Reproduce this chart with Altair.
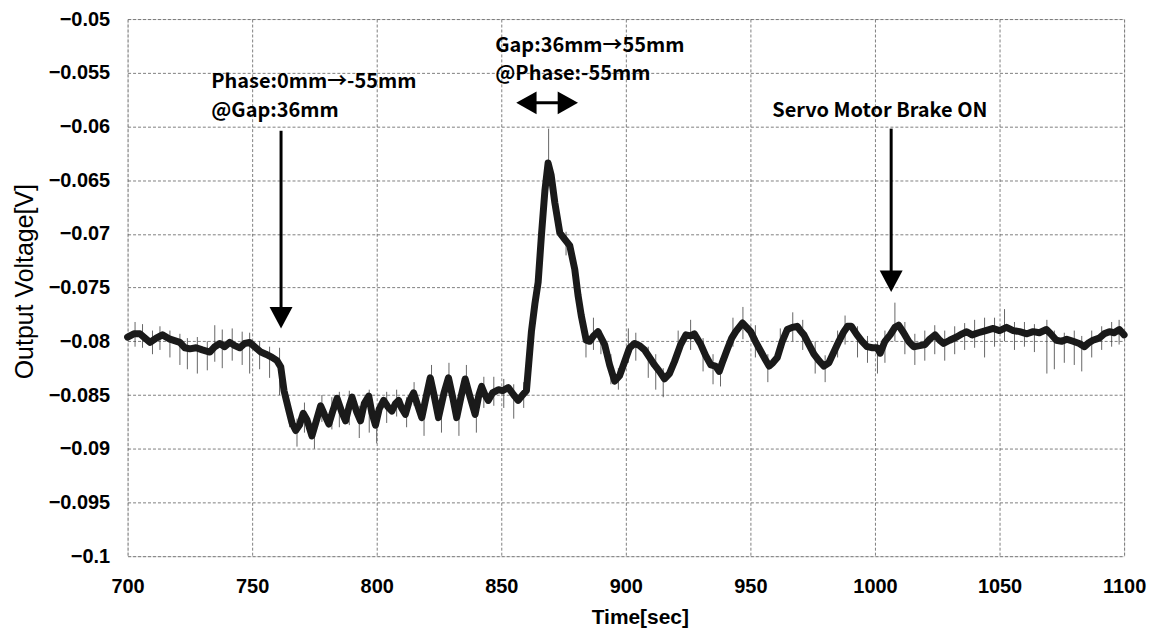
import altair as alt
import pandas as pd

# ---- main trace (Time[sec], Output Voltage[V]) ----
t_vals = [700, 702.5, 705, 707, 709, 711.5, 714, 717, 721, 723, 725, 727.5, 730, 733, 735, 737, 739, 741, 743, 745,
          747, 749, 751.5, 753.5, 755.5, 758, 760, 761.5, 762.8, 764.8, 766, 767.5, 769, 770.5, 772, 774, 776, 777.5,
          779, 780.8, 782.5, 784.1, 786, 787.5, 789, 790.1, 792, 793.5, 795, 796.8, 798, 799.5, 801, 802.8, 804.5,
          806.1, 807.5, 808.8, 810, 811.5, 813, 814.8, 816.5, 818.1, 820, 821.5, 823, 824.8, 827, 828.8, 830.5,
          832.1, 834, 835.5, 837.5, 839.5, 841, 842.1, 843.5, 844.8, 846.5, 848.8, 850.5, 852.8, 855, 856.8, 858.5,
          860.1, 862.1, 863.5, 864.8, 866.1, 867.5, 868.8, 870, 871.5, 873.5, 875.5, 877.5, 879.5, 880.8, 882.1,
          884.1, 885.5, 887, 888.8, 891.5, 893.5, 895.5, 897.5, 899.5, 901.5, 903.5, 905.5, 907.5, 909.5, 911.5,
          913.5, 915.5, 917.5, 919.5, 922, 924.1, 926, 927.5, 930.1, 932, 934.1, 936, 937.5, 939, 940.8, 942.5,
          944.1, 946.8, 948.5, 950.1, 952, 954.1, 956, 957.5, 959, 960.8, 962.8, 964.8, 966.8, 968.8, 970, 971.5,
          973.5, 975.5, 977.5, 979.5, 981.5, 983.5, 985.5, 987.5, 989, 990.5, 992.8, 994.8, 996.8, 999, 1000.8,
          1002.1, 1004, 1006.1, 1008, 1009.5, 1011.5, 1013.5, 1015.5, 1018, 1020.1, 1022, 1024.1, 1026, 1027.5,
          1030, 1032.8, 1035, 1036.8, 1039, 1041.5, 1044.5, 1047.5, 1050, 1052.8, 1055.5, 1058.1, 1061, 1063.5,
          1066, 1068.8, 1070.5, 1072.8, 1075, 1077, 1079.5, 1082, 1084.1, 1086, 1087.5, 1090, 1092, 1094.1, 1096,
          1098.1, 1100]
v_vals = [-0.0796, -0.0793, -0.0793, -0.0797, -0.0801, -0.0797, -0.0794, -0.0798, -0.0801, -0.0806, -0.0807,
          -0.0806, -0.0808, -0.0810, -0.0805, -0.0802, -0.0805, -0.0801, -0.0804, -0.0806, -0.0802, -0.0801,
          -0.0806, -0.0810, -0.0812, -0.0815, -0.0818, -0.0824, -0.0846, -0.0865, -0.0876, -0.0883, -0.0878,
          -0.0867, -0.0873, -0.0888, -0.0872, -0.0860, -0.0868, -0.0877, -0.0864, -0.0853, -0.0866, -0.0874,
          -0.0860, -0.0852, -0.0866, -0.0874, -0.0858, -0.0851, -0.0866, -0.0878, -0.0863, -0.0855, -0.0861,
          -0.0865, -0.0858, -0.0855, -0.0862, -0.0868, -0.0856, -0.0848, -0.0860, -0.0871, -0.0850, -0.0834,
          -0.0850, -0.0871, -0.0848, -0.0834, -0.0852, -0.0871, -0.0850, -0.0835, -0.0852, -0.0868, -0.0850,
          -0.0842, -0.0850, -0.0855, -0.0848, -0.0845, -0.0846, -0.0843, -0.0850, -0.0855, -0.0850, -0.0846,
          -0.0791, -0.0765, -0.0745, -0.0702, -0.0660, -0.0634, -0.0645, -0.0671, -0.0699, -0.0705, -0.0711,
          -0.0733, -0.0757, -0.0776, -0.0799, -0.0800, -0.0795, -0.0791, -0.0803, -0.0822, -0.0837, -0.0832,
          -0.0819, -0.0806, -0.0802, -0.0804, -0.0808, -0.0815, -0.0822, -0.0828, -0.0835, -0.0830, -0.0819,
          -0.0803, -0.0794, -0.0795, -0.0793, -0.0803, -0.0813, -0.0822, -0.0823, -0.0828, -0.0818, -0.0807,
          -0.0797, -0.0791, -0.0783, -0.0787, -0.0791, -0.0800, -0.0809, -0.0817, -0.0823, -0.0820, -0.0815,
          -0.0800, -0.0789, -0.0787, -0.0786, -0.0790, -0.0794, -0.0803, -0.0812, -0.0818, -0.0823, -0.0820,
          -0.0810, -0.0800, -0.0791, -0.0786, -0.0786, -0.0794, -0.0800, -0.0805, -0.0806, -0.0806, -0.0811,
          -0.0800, -0.0794, -0.0787, -0.0785, -0.0792, -0.0800, -0.0805, -0.0804, -0.0803, -0.0798, -0.0794,
          -0.0799, -0.0802, -0.0799, -0.0796, -0.0793, -0.0791, -0.0794, -0.0792, -0.0790, -0.0788, -0.0790,
          -0.0787, -0.0790, -0.0791, -0.0793, -0.0791, -0.0792, -0.0789, -0.0793, -0.0799, -0.0800, -0.0798,
          -0.0800, -0.0802, -0.0805, -0.0801, -0.0799, -0.0797, -0.0793, -0.0791, -0.0792, -0.0789, -0.0794]

# ---- noise spikes around the trace (time, low, high) ----
spike_t = [703, 706, 710, 713, 717, 721, 724, 728, 732, 735, 738, 742, 746, 749, 753, 757, 761, 765, 768, 771,
           775, 778, 782, 785, 789, 793, 797, 800, 804, 808, 812, 815, 819, 822, 826, 829, 833, 836, 840, 843,
           847, 851, 855, 859, 869, 876, 884, 887, 890, 894, 897, 901, 904, 909, 912, 915, 921, 926, 931, 935,
           938, 943, 947, 952, 957, 962, 967, 971, 976, 980, 985, 988, 993, 997, 1001, 1004, 1008, 1012, 1016,
           1020, 1024, 1028, 1032, 1036, 1040, 1044, 1048, 1052, 1056, 1060, 1064, 1069, 1072, 1076, 1080, 1083,
           1087, 1091, 1095, 1098]
spike_lo = [-0.0805, -0.0806, -0.0812, -0.0808, -0.0815, -0.0822, -0.0826, -0.0830, -0.0827, -0.0819, -0.0825,
            -0.0818, -0.0822, -0.0830, -0.0826, -0.0834, -0.0850, -0.0880, -0.0898, -0.0885, -0.0900, -0.0875,
            -0.0882, -0.0880, -0.0878, -0.0890, -0.0885, -0.0895, -0.0876, -0.0870, -0.0880, -0.0860, -0.0888,
            -0.0850, -0.0885, -0.0848, -0.0888, -0.0850, -0.0885, -0.0862, -0.0860, -0.0862, -0.0872, -0.0862,
            -0.0645, -0.0720, -0.0815, -0.0808, -0.0812, -0.0840, -0.0845, -0.0820, -0.0818, -0.0834, -0.0845,
            -0.0852, -0.0815, -0.0808, -0.0828, -0.0840, -0.0842, -0.0805, -0.0798, -0.0815, -0.0838, -0.0812,
            -0.0800, -0.0808, -0.0830, -0.0838, -0.0815, -0.0803, -0.0815, -0.0820, -0.0830, -0.0820, -0.0800,
            -0.0812, -0.0822, -0.0818, -0.0812, -0.0818, -0.0812, -0.0808, -0.0806, -0.0815, -0.0805, -0.0800,
            -0.0808, -0.0805, -0.0810, -0.0830, -0.0826, -0.0820, -0.0822, -0.0828, -0.0815, -0.0808, -0.0805,
            -0.0803]
spike_hi = [-0.0782, -0.0784, -0.0790, -0.0786, -0.0790, -0.0793, -0.0797, -0.0796, -0.0800, -0.0785, -0.0789,
            -0.0788, -0.0791, -0.0792, -0.0800, -0.0805, -0.0806, -0.0858, -0.0872, -0.0857, -0.0872, -0.0850,
            -0.0852, -0.0847, -0.0846, -0.0860, -0.0845, -0.0862, -0.0847, -0.0845, -0.0852, -0.0838, -0.0855,
            -0.0822, -0.0855, -0.0820, -0.0858, -0.0822, -0.0853, -0.0833, -0.0833, -0.0835, -0.0840, -0.0838,
            -0.0602, -0.0698, -0.0788, -0.0778, -0.0790, -0.0812, -0.0825, -0.0788, -0.0792, -0.0805, -0.0812,
            -0.0825, -0.0790, -0.0780, -0.0797, -0.0812, -0.0816, -0.0778, -0.0768, -0.0785, -0.0812, -0.0788,
            -0.0773, -0.0780, -0.0800, -0.0813, -0.0790, -0.0776, -0.0786, -0.0795, -0.0800, -0.0790, -0.0764,
            -0.0782, -0.0793, -0.0790, -0.0785, -0.0790, -0.0786, -0.0783, -0.0780, -0.0778, -0.0778, -0.0770,
            -0.0782, -0.0782, -0.0784, -0.0780, -0.0790, -0.0792, -0.0790, -0.0795, -0.0790, -0.0786, -0.0782,
            -0.0780]

# ---- axis ticks ----
x_ticks = [700, 750, 800, 850, 900, 950, 1000, 1050, 1100]
y_ticks = [-0.1, -0.095, -0.09, -0.085, -0.08, -0.075, -0.07, -0.065, -0.06, -0.055, -0.05]

# ---- annotations ----
note_text = ["Phase:0mm\u2192-55mm", "@Gap:36mm", "Gap:36mm\u219255mm", "@Phase:-55mm",
             "Servo Motor Brake ON"]
note_t = [733.6, 733.6, 847.6, 847.6, 958.8]
note_v = [-0.05590, -0.05856, -0.05250, -0.05516, -0.05856]

shaft_t = [761.6, 1006.5, 858.0]
shaft_t2 = [761.6, 1006.5, 878.5]
shaft_v = [-0.0604, -0.0602, -0.0578]
shaft_v2 = [-0.0778, -0.0745, -0.0578]

head_t = [761.6, 1006.5, 856.0, 880.8]
head_v = [-0.0788, -0.0754, -0.0578, -0.0578]
head_kind = ["down", "down", "left", "right"]

FONT = "Liberation Sans"
NOTE_FONT = "Noto Sans CJK JP"

X_SCALE = alt.Scale(domain=[700, 1100], nice=False, zero=False)
Y_SCALE = alt.Scale(domain=[-0.1, -0.05], nice=False, zero=False)

trace = pd.DataFrame({"t": t_vals, "v": v_vals})
spikes = pd.DataFrame({"t": spike_t, "lo": spike_lo, "hi": spike_hi})
notes = pd.DataFrame({"t": note_t, "v": note_v, "label": note_text})
shafts = pd.DataFrame({"t": shaft_t, "t2": shaft_t2, "v": shaft_v, "v2": shaft_v2})
heads = pd.DataFrame({"t": head_t, "v": head_v, "kind": head_kind})

x_axis = alt.Axis(values=x_ticks, title="Time[sec]", grid=True, ticks=False, domain=False,
                  format="d", labelFlush=False,
                  labelFont=FONT, labelFontSize=20, labelFontWeight="bold", labelColor="#000",
                  labelPadding=20, titleFont=FONT, titleFontSize=21, titleFontWeight="bold",
                  titleColor="#000", titleX=514, titleY=62, titleAlign="center", titleBaseline="middle",
                  gridColor="#555", gridDash=[3, 2], gridWidth=1, gridOpacity=0.75)
y_axis = alt.Axis(values=y_ticks, title="Output Voltage[V]", grid=True, ticks=False, domain=False,
                  format=".3~f", labelFlush=False, labelFont=FONT, labelFontSize=20, labelFontWeight="bold",
                  labelColor="#000", labelPadding=18, titleFont=FONT, titleFontSize=25,
                  titleFontWeight="normal", titleColor="#000", titleX=-103, titleY=263,
                  titleAngle=270, titleAlign="center", titleBaseline="middle",
                  gridColor="#555", gridDash=[3, 2], gridWidth=1, gridOpacity=0.75)

spike_layer = alt.Chart(spikes).mark_rule(color="#333", strokeWidth=1, opacity=0.75).encode(
    x=alt.X("t:Q", scale=X_SCALE, axis=x_axis),
    y=alt.Y("lo:Q", scale=Y_SCALE, axis=y_axis),
    y2="hi:Q",
)

line_layer = alt.Chart(trace).mark_line(color="#1a1a1a", strokeWidth=7, strokeJoin="round",
                                         strokeCap="round").encode(
    x=alt.X("t:Q", scale=X_SCALE),
    y=alt.Y("v:Q", scale=Y_SCALE),
)

shaft_layer = alt.Chart(shafts).mark_rule(color="#000", strokeWidth=3).encode(
    x=alt.X("t:Q", scale=X_SCALE),
    x2="t2:Q",
    y=alt.Y("v:Q", scale=Y_SCALE),
    y2="v2:Q",
)

head_layer = alt.Chart(heads).mark_point(filled=True, color="#000", opacity=1, size=576).encode(
    x=alt.X("t:Q", scale=X_SCALE),
    y=alt.Y("v:Q", scale=Y_SCALE),
    shape=alt.Shape("kind:N", legend=None, scale=alt.Scale(
        domain=["down", "left", "right"],
        range=["M-0.96,-1.8L0.96,-1.8L0,0Z", "M0,0L1.7,-0.95L1.7,0.95Z", "M0,0L-1.7,-0.95L-1.7,0.95Z"])),
)

text_layer = alt.Chart(notes).mark_text(align="left", baseline="middle", font=NOTE_FONT, fontSize=20,
                                         fontWeight="bold", color="#000").encode(
    x=alt.X("t:Q", scale=X_SCALE),
    y=alt.Y("v:Q", scale=Y_SCALE),
    text="label:N",
)

chart = alt.layer(spike_layer, line_layer, shaft_layer, head_layer, text_layer).properties(
    width=1000,
    height=539,
    autosize=alt.AutoSizeParams(type="none"),
    padding={"left": 120, "top": 10, "right": 28, "bottom": 75},
).configure_view(stroke="#000", strokeWidth=1.5).configure(background="#ffffff")

chart.save("out.html", embed_options={"renderer": "svg", "actions": False})
